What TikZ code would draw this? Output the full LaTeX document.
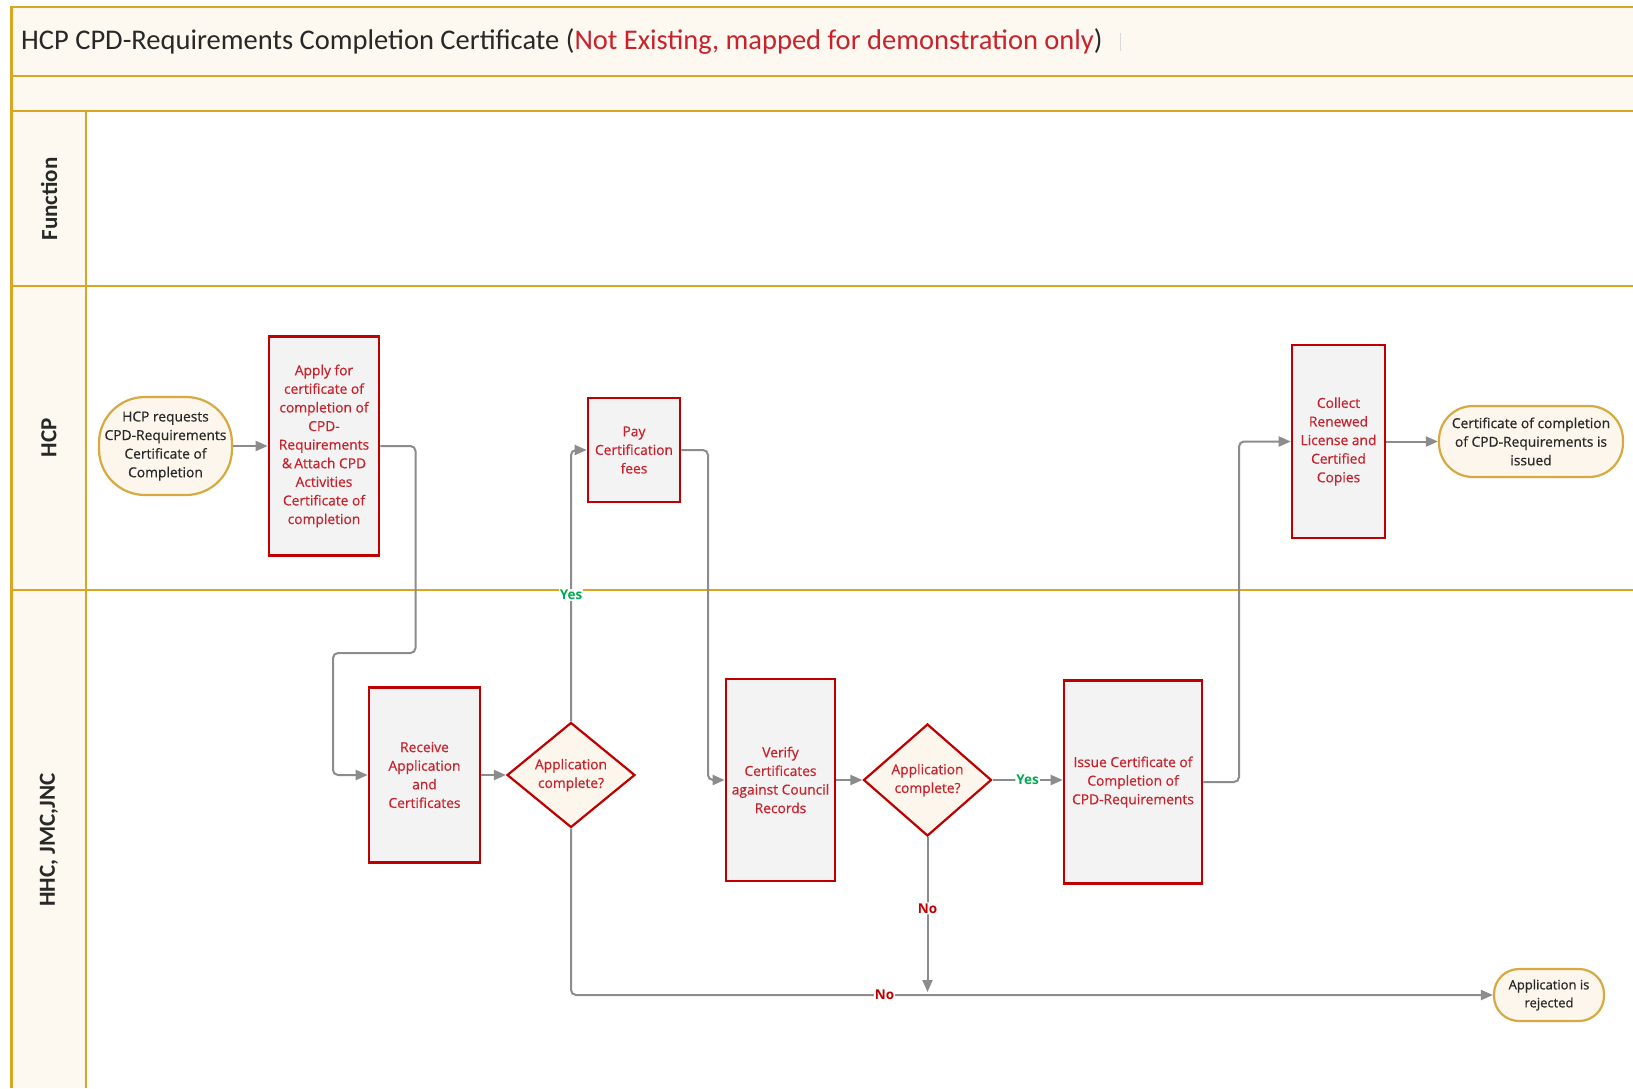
\documentclass[tikz,border=0pt]{standalone}
\usepackage{fontspec}
\setmainfont{Open Sans}
\newfontfamily\boxfont{Open Sans}[FakeBold=0.6]
\newfontfamily\calibri{Carlito}
\usetikzlibrary{arrows.meta,shapes.geometric,calc}

\definecolor{lanegold}{RGB}{218,165,32}
\definecolor{cream}{RGB}{253,248,240}
\definecolor{boxfill}{RGB}{243,243,243}
\definecolor{boxred}{RGB}{192,0,0}
\definecolor{txtred}{RGB}{200,35,45}
\definecolor{ovalgold}{RGB}{214,170,64}
\definecolor{ovalfill}{RGB}{253,246,236}
\definecolor{flowgray}{RGB}{140,140,140}
\definecolor{yesgreen}{RGB}{0,170,80}
\definecolor{titlegray}{RGB}{40,40,40}

\tikzset{
  task/.style={draw=boxred, line width=2.6pt, fill=boxfill, text=txtred,
    align=center, inner sep=0pt, font=\boxfont\fontsize{13.8}{18.6}\selectfont},
  term/.style={draw=ovalgold, line width=2.2pt, fill=ovalfill, text=titlegray,
    align=center, inner sep=0pt, font=\boxfont\fontsize{13.8}{18.6}\selectfont},
  decision/.style={diamond, draw=boxred, line width=2.2pt, fill=ovalfill,
    text=txtred, align=center, inner sep=0pt, minimum width=128pt,
    minimum height=105pt, font=\boxfont\fontsize{13.8}{18.6}\selectfont},
  flow/.style={draw=flowgray, line width=2pt, rounded corners=5pt,
    -{Triangle[length=12pt,width=10pt]}},
  lane/.style={draw=lanegold, line width=2.5pt},
  lanelabel/.style={rotate=90, font=\calibri\bfseries\fontsize{23}{26}\selectfont, text=titlegray},
  yeslbl/.style={fill=white, text=yesgreen, inner sep=1pt,
    font=\bfseries\fontsize{13.5}{15}\selectfont},
  nolbl/.style={fill=white, text=boxred, inner sep=1pt,
    font=\bfseries\fontsize{13.5}{15}\selectfont}
}

\begin{document}
\begin{tikzpicture}[x=1pt,y=-1pt]
\useasboundingbox (0,0) rectangle (1633,1088);
\fill[white] (0,0) rectangle (1633,1088);

% swimlane frame
\fill[cream] (11.5,7) rectangle (1633,111);
\fill[cream] (11.5,111) rectangle (86,1088);
\draw[lane] (1633,7) -- (11.5,7) -- (11.5,1088);
\draw[lane] (11.5,76) -- (1633,76);
\draw[lane] (11.5,111) -- (1633,111);
\draw[lane] (11.5,286) -- (1633,286);
\draw[lane] (11.5,590) -- (1633,590);
\draw[lane] (86,111) -- (86,1088);

% title
\node[anchor=west, inner sep=0pt, text=titlegray, font=\calibri\fontsize{28.5}{34}\selectfont]
  (title) at (21,42) {HCP CPD-Requirements Completion Certificate (\textcolor{txtred}{Not Existing, mapped for demonstration only})};
\draw[black!15, line width=1pt] (1120,33) -- (1120,51);

% lane labels
\node[lanelabel] (lfun) at (49,199) {Function};
\node[lanelabel] (lhcp) at (49,438) {HCP};
\node[lanelabel] (lhhc) at (49,840) {HHC, JMC,JNC};

% HCP lane
\node[term, minimum width=133pt, minimum height=98pt, rounded corners=46pt]
  (start) at (165.5,446) {HCP requests\\CPD-Requirements\\Certificate of\\Completion};
\node[task, minimum width=110pt, minimum height=219pt]
  (apply) at (324,446) {Apply for\\certificate of\\completion of\\CPD-\\Requirements\\\&\,Attach CPD\\Activities\\Certificate of\\completion};
\node[task, minimum width=92pt, minimum height=104pt]
  (pay) at (634,450) {Pay\\Certification\\fees};
\node[task, minimum width=93pt, minimum height=193pt]
  (collect) at (1338.5,441.5) {Collect\\Renewed\\License and\\Certified\\Copies};
\node[term, minimum width=184pt, minimum height=71pt, rounded corners=34pt]
  (issued) at (1531,441.5) {Certificate of completion\\of CPD-Requirements is\\issued};

% HHC, JMC, JNC lane
\node[task, minimum width=111pt, minimum height=175pt]
  (receive) at (424.5,775) {Receive\\Application\\and\\Certificates};
\node[decision] (dec1) at (571,775) {Application\\complete?};
\node[task, minimum width=109pt, minimum height=202pt]
  (verify) at (780.5,780) {Verify\\Certificates\\against Council\\Records};
\node[decision, minimum height=112pt] (dec2) at (927.5,780) {Application\\complete?};
\node[task, minimum width=138pt, minimum height=203pt]
  (issue) at (1133,782) {Issue Certificate of\\Completion of\\CPD-Requirements};
\node[term, minimum width=110pt, minimum height=52pt, rounded corners=25pt,
  font=\boxfont\fontsize{13}{18}\selectfont]
  (rejected) at (1549,995) {Application is\\rejected};

% connectors
\coordinate (nojoin) at ($(dec2.south |- rejected.west)+(0,-3)$);
\draw[flow] (start) -- (apply);
\draw[flow] (apply.east) -- (415.5,446) -- (415.5,653) -- (333,653) |- (receive.west);
\draw[flow] (receive) -- (dec1);
\draw[flow] (dec1.north) |- (pay.west);
\node[yeslbl] (yes1) at (571,595) {Yes};
\draw[flow] (pay.east) -- (708,450) |- (verify.west);
\draw[flow] (verify) -- (dec2);
\draw[flow] (dec2.east) -- node[yeslbl] (yes2) {Yes} (dec2.east -| issue.west);
\draw[flow] (issue.east) -- (1239,782) |- (collect.west);
\draw[flow] (collect) -- (issued);
\draw[flow] (dec1.south) |- node[pos=0.67, nolbl] (no1) {No} (rejected.west);
\draw[flow] (dec2.south) -- node[pos=0.46, nolbl] (no2) {No} (nojoin);
\end{tikzpicture}
\end{document}
